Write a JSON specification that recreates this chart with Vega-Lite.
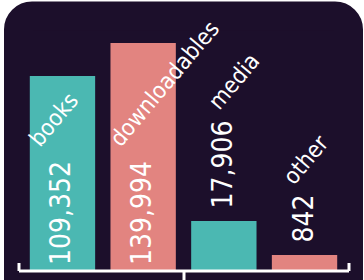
{
  "$schema": "https://vega.github.io/schema/vega-lite/v6.json",
  "width": 330,
  "height": 254.5,
  "autosize": {"type": "none"},
  "padding": {"left": 18.5, "top": 16, "right": 15.5, "bottom": 9.5},
  "background": "white",
  "config": {
    "view": {"stroke": null},
    "text": {"font": "DejaVu Sans Condensed, sans-serif", "color": "white"}
  },
  "layer": [
    {
      "data": {"values": [{}]},
      "mark": {"type": "rect", "fill": "#1c0f2b", "stroke": "#1c0f2b", "strokeWidth": 29, "cornerRadiusTopLeft": 13.5, "cornerRadiusTopRight": 13.5},
      "encoding": {}
    },
    {
      "data": {"values": [
        {"category": "books", "value": 109352},
        {"category": "downloadables", "value": 139994},
        {"category": "media", "value": 17906},
        {"category": "other", "value": 842}
      ]},
      "encoding": {
        "x": {
          "field": "category", "type": "nominal",
          "scale": {"domain": ["books", "downloadables", "media", "other"], "paddingInner": 0.19, "paddingOuter": 0.14},
          "axis": {"domain": true, "domainColor": "white", "domainWidth": 3, "ticks": false, "labels": false, "title": null, "grid": false, "zindex": 1}
        },
        "y": {
          "field": "value", "type": "quantitative",
          "scale": {"domain": [0, 842, 17906, 109352, 139994, 165000], "range": [254.5, 239, 205, 60, 27, 0], "nice": false, "zero": false},
          "axis": null
        }
      },
      "layer": [
        {
          "mark": {"type": "bar"},
          "encoding": {
            "color": {
              "field": "category", "type": "nominal",
              "scale": {"domain": ["books", "downloadables", "media", "other"], "range": ["#4bb8b2", "#e28480", "#4bb8b2", "#e28480"]},
              "legend": null
            }
          }
        },
        {
          "transform": [{"filter": "datum.value > 50000"}],
          "mark": {"type": "text", "angle": 270, "align": "left", "baseline": "middle", "fontSize": 28, "dx": 5.5},
          "encoding": {
            "y": {"datum": 0, "type": "quantitative"},
            "text": {"field": "value", "type": "quantitative", "format": ","}
          }
        },
        {
          "transform": [{"filter": "datum.value < 50000"}],
          "mark": {"type": "text", "angle": 270, "align": "left", "baseline": "middle", "fontSize": 28, "dx": 12.5},
          "encoding": {
            "text": {"field": "value", "type": "quantitative", "format": ","}
          }
        },
        {
          "transform": [{"filter": "datum.value > 50000"}],
          "mark": {"type": "text", "angle": 310, "align": "left", "baseline": "alphabetic", "fontSize": 23, "dx": 79.4, "dy": -96},
          "encoding": {
            "y": {"datum": 0, "type": "quantitative"},
            "text": {"field": "category", "type": "nominal"}
          }
        },
        {
          "transform": [{"filter": "datum.category === 'media'"}],
          "mark": {"type": "text", "angle": 310, "align": "left", "baseline": "alphabetic", "fontSize": 23, "dx": 81.4, "dy": -74.2},
          "encoding": {
            "text": {"field": "category", "type": "nominal"}
          }
        },
        {
          "transform": [{"filter": "datum.category === 'other'"}],
          "mark": {"type": "text", "angle": 310, "align": "left", "baseline": "alphabetic", "fontSize": 23, "dx": 46.1, "dy": -52.4},
          "encoding": {
            "text": {"field": "category", "type": "nominal"}
          }
        }
      ]
    },
    {
      "data": {"values": [{"pos": "start"}, {"pos": "end"}]},
      "mark": {"type": "point", "opacity": 0},
      "encoding": {
        "x": {
          "field": "pos", "type": "nominal",
          "scale": {"type": "point", "padding": 0, "domain": ["start", "end"]},
          "axis": {"orient": "bottom", "domain": false, "labels": false, "ticks": true, "tickColor": "white", "tickWidth": 3, "tickSize": -8, "title": null, "grid": false, "zindex": 1}
        }
      }
    },
    {
      "data": {"values": [{"pos": "mid"}]},
      "mark": {"type": "point", "opacity": 0},
      "encoding": {
        "x": {
          "field": "pos", "type": "nominal",
          "scale": {"type": "point", "padding": 0, "domain": ["mid"]},
          "axis": {"orient": "bottom", "domain": false, "labels": false, "ticks": true, "tickColor": "white", "tickWidth": 3, "tickSize": 9, "title": null, "grid": false, "zindex": 1}
        }
      }
    }
  ],
  "resolve": {"scale": {"x": "independent"}, "axis": {"x": "independent"}}
}
